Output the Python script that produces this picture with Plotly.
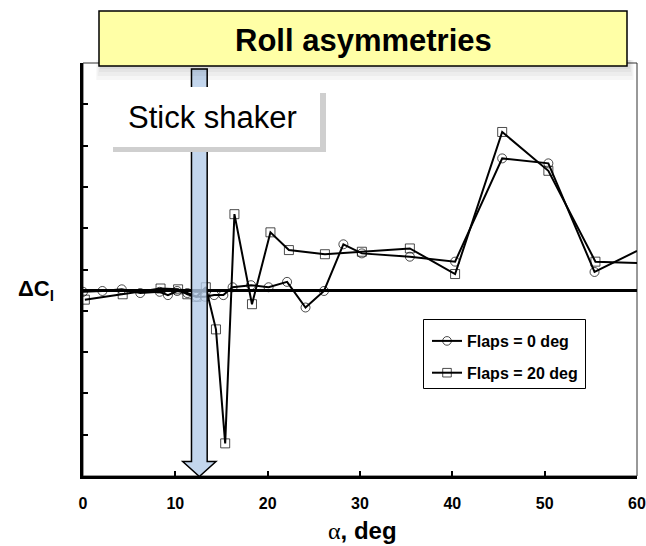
import plotly.graph_objects as go

# ---------------- data ----------------
alpha_flaps0 = [0, 2.1, 4.2, 6.2, 8.3, 9.2, 10.2, 11.3, 12.3, 13.2, 14.2, 15.2, 16.2, 18.2,
                20.1, 22.1, 24.1, 26.1, 28.2, 30.2, 35.4, 40.3, 45.4, 50.4, 55.4, 60]
dcl_flaps0 = [-0.04, -0.02, 0.02, -0.07, -0.04, -0.12, -0.02, -0.07, -0.16, -0.16, -0.12, -0.12,
              0.07, 0.12, 0.07, 0.20, -0.42, -0.02, 1.11, 0.89, 0.81, 0.69, 3.19, 3.07, 0.44, 0.95]

alpha_flaps20 = [0.2, 4.3, 8.4, 10.3, 11.3, 12.3, 13.3, 14.4, 15.4, 16.4, 18.3, 20.3, 22.3,
                 26.2, 30.2, 35.4, 40.3, 45.4, 50.4, 55.5, 60]
dcl_flaps20 = [-0.23, -0.10, 0.04, 0.02, -0.10, -0.16, 0.07, -0.95, -3.71, 1.84, -0.34, 1.40,
               0.97, 0.87, 0.93, 1.01, 0.39, 3.83, 2.89, 0.69, 0.66]

series_names = ["Flaps = 0 deg", "Flaps = 20 deg"]
x_tick_vals = [0, 10, 20, 30, 40, 50, 60]
y_tick_vals = [-4.5, -3.5, -2.5, -1.5, -0.5, 0.5, 1.5, 2.5, 3.5, 4.5, 5.5]
stick_shaker_alpha = 12.6
title_text = "Roll asymmetries"
shaker_text = "Stick shaker"

# ---------------- style ----------------
W, H = 646, 546
ML, MR, MT, MB = 83, 9, 63, 70
PW, PH = W - ML - MR, H - MT - MB
BOLD_NARROW = "Liberation Sans Narrow, Arial Narrow, Liberation Sans, Arial"
SANS = "Liberation Sans, Arial, Helvetica"


def px_x(p):
    return (p - ML) / PW


def px_y(p):
    return (H - MB - p) / PH


fig = go.Figure()


def sizes(n, s):
    return [s] * (n - 1) + [0]


fig.add_trace(go.Scatter(
    x=alpha_flaps0, y=dcl_flaps0, name=series_names[0], mode="lines+markers",
    line=dict(color="black", width=2),
    marker=dict(symbol="circle-open", size=sizes(len(alpha_flaps0), 9),
                color="black", line=dict(width=1, color="black")),
    legendgroup="a"))
fig.add_trace(go.Scatter(
    x=alpha_flaps20, y=dcl_flaps20, name=series_names[1], mode="lines+markers",
    line=dict(color="black", width=2),
    marker=dict(symbol="square-open", size=sizes(len(alpha_flaps20), 9),
                color="black", line=dict(width=1, color="black")),
    legendgroup="b"))

shapes = []
# frame top/right
shapes.append(dict(type="rect", xref="paper", yref="paper", x0=0, x1=1, y0=0, y1=1,
                   line=dict(color="#333333", width=1), layer="below"))

# arrow (stick shaker)
a = stick_shaker_alpha
sw, hw = 0.85, 1.8
yt, yh, ytip = px_y(69), px_y(461.5), px_y(476.5)
path = (f"M{a - sw},{yt} L{a + sw},{yt} L{a + sw},{yh} L{a + hw},{yh} L{a},{ytip} "
        f"L{a - hw},{yh} L{a - sw},{yh} Z")
shapes.append(dict(type="path", xref="x", yref="paper", path=path,
                   fillcolor="rgba(180,204,232,0.8)", line=dict(color="black", width=1.5),
                   layer="above"))

# stick shaker box with shadow
shapes.append(dict(type="rect", xref="paper", yref="paper",
                   x0=px_x(113), x1=px_x(326), y0=px_y(152), y1=px_y(93),
                   fillcolor="#cfcfcf", line=dict(width=0), layer="above"))
shapes.append(dict(type="rect", xref="paper", yref="paper",
                   x0=px_x(108), x1=px_x(320), y0=px_y(147), y1=px_y(87),
                   fillcolor="white", line=dict(width=0), layer="above"))

# title box soft shadow
for d in [14, 10, 6, 3]:
    shapes.append(dict(type="rect", xref="paper", yref="paper",
                       x0=px_x(101 - d / 3), x1=px_x(629 + d / 3), y0=px_y(66 + d), y1=px_y(60),
                       fillcolor="rgba(0,0,0,0.035)", line=dict(width=0), layer="above"))
shapes.append(dict(type="rect", xref="paper", yref="paper",
                   x0=px_x(99), x1=px_x(627), y0=px_y(66), y1=px_y(11),
                   fillcolor="#FFFFA6", line=dict(color="black", width=1.5), layer="above"))

# legend box
shapes.append(dict(type="rect", xref="paper", yref="paper",
                   x0=px_x(423.5), x1=px_x(585.5), y0=px_y(388.5), y1=px_y(319.5),
                   fillcolor="white", line=dict(color="black", width=1), layer="below"))

annotations = [
    dict(text=f"<b>{title_text}</b>", xref="paper", yref="paper", x=px_x(363), y=px_y(40),
         showarrow=False, font=dict(family=SANS, size=31, color="black"),
         xanchor="center", yanchor="middle"),
    dict(text=shaker_text, xref="paper", yref="paper", x=px_x(212), y=px_y(118),
         showarrow=False, font=dict(family=SANS, size=31, color="black"),
         xanchor="center", yanchor="middle"),
    dict(text="<b>ΔC<sub>l</sub></b>", xref="paper", yref="y", x=px_x(36), y=0,
         showarrow=False, font=dict(family=SANS, size=22, color="black"),
         xanchor="center", yanchor="middle"),
    dict(text="<span style='font-family:Liberation Serif, Times New Roman, serif'>α</span><b>, deg</b>",
         xref="paper", yref="paper", x=px_x(362), y=px_y(530),
         showarrow=False, font=dict(family=SANS, size=24, color="black"),
         xanchor="center", yanchor="middle"),
]

fig.update_layout(
    width=W, height=H,
    margin=dict(l=ML, r=MR, t=MT, b=MB, pad=0, autoexpand=False),
    paper_bgcolor="white", plot_bgcolor="white",
    showlegend=True,
    legend=dict(x=px_x(427), y=px_y(324), xanchor="left", yanchor="top",
                bgcolor="rgba(0,0,0,0)", borderwidth=0,
                font=dict(family=BOLD_NARROW, size=16, color="black", weight="bold"),
                traceorder="grouped", tracegroupgap=8, itemwidth=30),
    shapes=shapes,
    annotations=annotations,
    xaxis=dict(range=[0, 60], tickvals=x_tick_vals, ticks="inside", ticklen=5,
               tickwidth=1.5, tickcolor="black", showline=True, linecolor="black",
               linewidth=2.5, showgrid=False, zeroline=False, automargin=False,
               tickfont=dict(family=BOLD_NARROW, size=16, color="black", weight="bold"),
               ticklabelstandoff=11),
    yaxis=dict(range=[-4.5, 5.5], tickvals=y_tick_vals, ticks="inside", ticklen=5,
               tickwidth=1.5, tickcolor="black", showticklabels=False, showline=True,
               linecolor="black", linewidth=2.5, showgrid=False, automargin=False,
               zeroline=True, zerolinecolor="black", zerolinewidth=2.5),
)

fig.write_html("out.html", config={"displayModeBar": False},
               post_script="document.body.style.margin='0px';")
